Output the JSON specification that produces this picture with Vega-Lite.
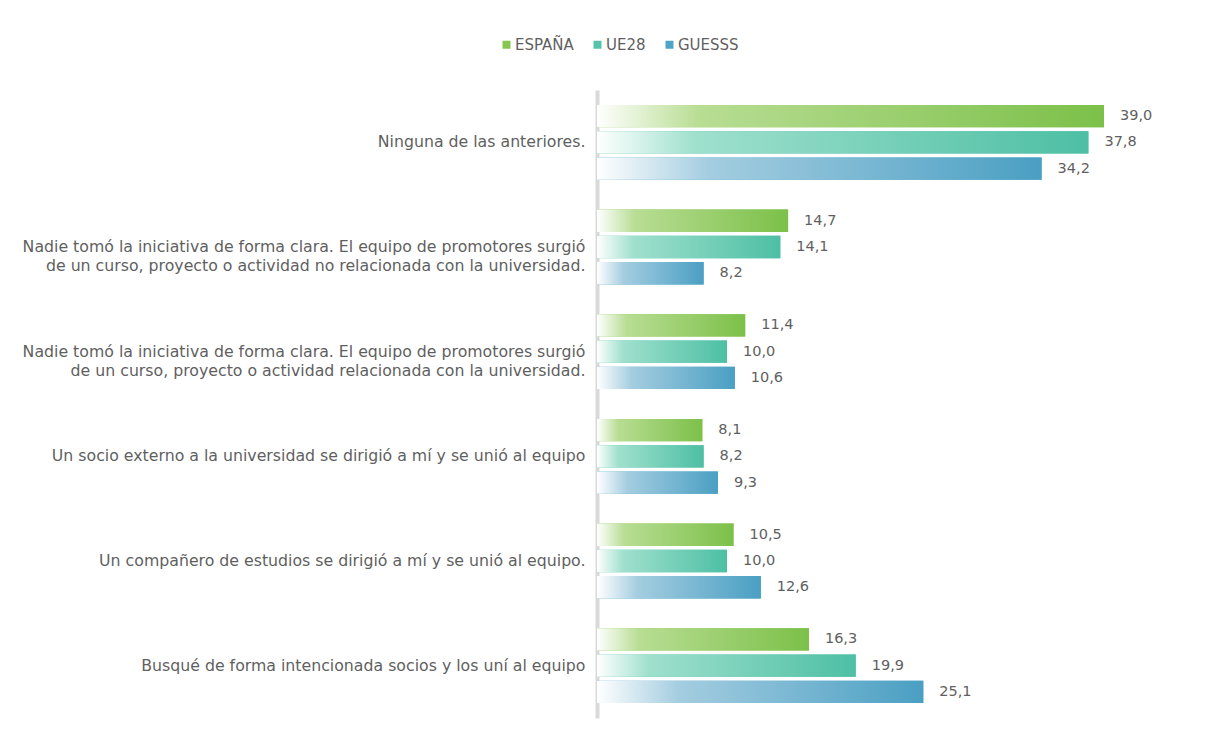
{
  "$schema": "https://vega.github.io/schema/vega-lite/v6.json",
  "width": 585,
  "height": 628,
  "padding": {"left": 22, "top": 37, "right": 18, "bottom": 20},
  "background": "#ffffff",
  "config": {
    "locale": {"number": {"decimal": ",", "thousands": ".", "grouping": [3], "currency": ["", " €"]}},
    "view": {"stroke": null},
    "font": "DejaVu Sans"
  },
  "data": {
    "values": [
      {"cat": "Ninguna de las anteriores.", "serie": "ESPAÑA", "valor": 39.0},
      {"cat": "Ninguna de las anteriores.", "serie": "UE28", "valor": 37.8},
      {"cat": "Ninguna de las anteriores.", "serie": "GUESSS", "valor": 34.2},
      {"cat": "Nadie tomó la iniciativa de forma clara. El equipo de promotores surgió|de un curso, proyecto o actividad no relacionada con la universidad.", "serie": "ESPAÑA", "valor": 14.7},
      {"cat": "Nadie tomó la iniciativa de forma clara. El equipo de promotores surgió|de un curso, proyecto o actividad no relacionada con la universidad.", "serie": "UE28", "valor": 14.1},
      {"cat": "Nadie tomó la iniciativa de forma clara. El equipo de promotores surgió|de un curso, proyecto o actividad no relacionada con la universidad.", "serie": "GUESSS", "valor": 8.2},
      {"cat": "Nadie tomó la iniciativa de forma clara. El equipo de promotores surgió|de un curso, proyecto o actividad relacionada con la universidad.", "serie": "ESPAÑA", "valor": 11.4},
      {"cat": "Nadie tomó la iniciativa de forma clara. El equipo de promotores surgió|de un curso, proyecto o actividad relacionada con la universidad.", "serie": "UE28", "valor": 10.0},
      {"cat": "Nadie tomó la iniciativa de forma clara. El equipo de promotores surgió|de un curso, proyecto o actividad relacionada con la universidad.", "serie": "GUESSS", "valor": 10.6},
      {"cat": "Un socio externo a la universidad se dirigió a mí y se unió al equipo", "serie": "ESPAÑA", "valor": 8.1},
      {"cat": "Un socio externo a la universidad se dirigió a mí y se unió al equipo", "serie": "UE28", "valor": 8.2},
      {"cat": "Un socio externo a la universidad se dirigió a mí y se unió al equipo", "serie": "GUESSS", "valor": 9.3},
      {"cat": "Un compañero de estudios se dirigió a mí y se unió al equipo.", "serie": "ESPAÑA", "valor": 10.5},
      {"cat": "Un compañero de estudios se dirigió a mí y se unió al equipo.", "serie": "UE28", "valor": 10.0},
      {"cat": "Un compañero de estudios se dirigió a mí y se unió al equipo.", "serie": "GUESSS", "valor": 12.6},
      {"cat": "Busqué de forma intencionada socios y los uní al equipo", "serie": "ESPAÑA", "valor": 16.3},
      {"cat": "Busqué de forma intencionada socios y los uní al equipo", "serie": "UE28", "valor": 19.9},
      {"cat": "Busqué de forma intencionada socios y los uní al equipo", "serie": "GUESSS", "valor": 25.1}
    ]
  },
  "encoding": {
    "y": {
      "field": "cat",
      "type": "nominal",
      "sort": null,
      "scale": {"paddingInner": 0.25, "paddingOuter": 0.125},
      "axis": {
        "title": null,
        "ticks": false,
        "domain": true,
        "domainColor": "#d9d9d9",
        "domainWidth": 4,
        "labelPadding": 12,
        "labelFontSize": 15.75,
        "labelColor": "#5f5f5f",
        "labelLimit": 0,
        "labelLineHeight": 19,
        "labelExpr": "split(datum.value, '|')"
      }
    },
    "yOffset": {
      "field": "serie",
      "type": "nominal",
      "scale": {"domain": ["ESPAÑA", "UE28", "GUESSS"], "paddingInner": 0.15, "paddingOuter": 0.07}
    },
    "x": {"field": "valor", "type": "quantitative", "scale": {"domain": [0, 45]}, "axis": null}
  },
  "layer": [
    {
      "mark": {"type": "bar"},
      "encoding": {
        "color": {
          "field": "serie",
          "type": "nominal",
          "scale": {"domain": ["ESPAÑA", "UE28", "GUESSS"], "range": ["#86c651", "#55c4aa", "#4fa5c7"]},
          "legend": {
            "title": null,
            "orient": "none",
            "direction": "horizontal",
            "legendX": -98,
            "legendY": -53,
            "symbolType": "square",
            "symbolSize": 64,
            "symbolStrokeWidth": 0,
            "labelFontSize": 15,
            "labelColor": "#5f5f5f",
            "labelOffset": 1,
            "columnPadding": 16
          }
        }
      }
    },
    {
      "transform": [{"filter": "datum.serie === 'ESPAÑA'"}],
      "mark": {"type": "bar", "color": {"gradient": "linear", "x1": 0, "y1": 0, "x2": 1, "y2": 0, "stops": [{"offset": 0, "color": "#ffffff"}, {"offset": 0.2, "color": "#b8dd93"}, {"offset": 1, "color": "#7cc049"}]}}
    },
    {
      "transform": [{"filter": "datum.serie === 'UE28'"}],
      "mark": {"type": "bar", "color": {"gradient": "linear", "x1": 0, "y1": 0, "x2": 1, "y2": 0, "stops": [{"offset": 0, "color": "#ffffff"}, {"offset": 0.2, "color": "#9fe0cd"}, {"offset": 1, "color": "#4dbfa4"}]}}
    },
    {
      "transform": [{"filter": "datum.serie === 'GUESSS'"}],
      "mark": {"type": "bar", "color": {"gradient": "linear", "x1": 0, "y1": 0, "x2": 1, "y2": 0, "stops": [{"offset": 0, "color": "#ffffff"}, {"offset": 0.25, "color": "#a4cde0"}, {"offset": 1, "color": "#4a9fc3"}]}}
    },
    {
      "mark": {"type": "text", "align": "left", "baseline": "middle", "dx": 16, "fontSize": 14.5, "color": "#5f5f5f"},
      "encoding": {"text": {"field": "valor", "type": "quantitative", "format": ".1f"}}
    }
  ]
}
